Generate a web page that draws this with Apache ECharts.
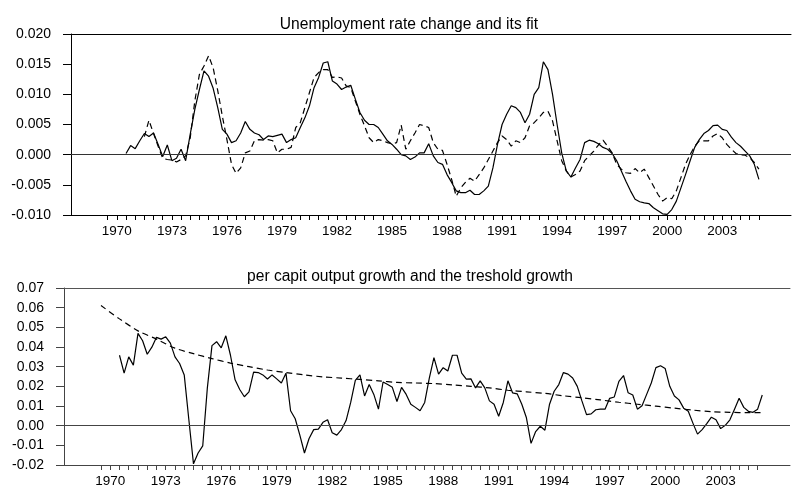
<!DOCTYPE html>
<html>
<head>
<meta charset="utf-8">
<script src="https://cdn.jsdelivr.net/npm/echarts@6/dist/echarts.min.js"></script>
<style>
  html, body { margin: 0; padding: 0; background: #fff; }
  #chart { width: 792px; height: 488px; }
</style>
</head>
<body>
<div id="chart"></div>
<script>
// quarterly categories, 1967Q3 .. 2006Q4
const quarters = [];
for (let y = 1967; y <= 2006; y++) {
  for (let q = 1; q <= 4; q++) {
    if (y === 1967 && q < 3) continue;
    quarters.push(y + 'Q' + q);
  }
}

// unemployment rate change (actual), from 1970Q3
const unempStart = '1970Q3';
const unempActual = [
  0.0002, 0.0015, 0.001, 0.0023, 0.0035, 0.003, 0.0036, 0.0017, -0.0003, 0.0016,
  -0.001, -0.0006, 0.0009, -0.001, 0.0034, 0.0075, 0.0108, 0.0139, 0.013, 0.011,
  0.0078, 0.0042, 0.0034, 0.002, 0.0023, 0.0036, 0.0055, 0.0042, 0.0036, 0.0033,
  0.0025, 0.0031, 0.003, 0.0032, 0.0034, 0.002, 0.0025, 0.0028, 0.0045, 0.0061,
  0.0081, 0.0111, 0.0128, 0.0152, 0.0154,
  0.0122, 0.0117, 0.0108, 0.0112, 0.0115, 0.0092, 0.007, 0.0057, 0.005, 0.005,
  0.0045, 0.0034, 0.0023, 0.0017, 0.0009, 0.0, -0.0002, -0.0008, -0.0004, 0.0003,
  0.0003, 0.0018, -0.0002, -0.0013, -0.0016, -0.0033, -0.0046, -0.006, -0.0063, -0.0063,
  -0.0059, -0.0066, -0.0066, -0.006, -0.0052, -0.0022, 0.0017, 0.005, 0.0067, 0.0081,
  0.0078, 0.007, 0.0053, 0.0067, 0.01, 0.0111, 0.0154, 0.0141,
  0.01, 0.005, 0.0003, -0.0027, -0.0037, -0.0022, -0.0008, 0.002, 0.0024, 0.0022,
  0.0018, 0.0012, 0.0009, 0.0002, -0.001, -0.0027, -0.0044, -0.006, -0.0074, -0.0078,
  -0.008, -0.0081, -0.0088, -0.0093, -0.0098, -0.0099, -0.0091, -0.0077, -0.0055, -0.0033,
  -0.001, 0.0012, 0.0025, 0.0035, 0.004, 0.0048, 0.0049, 0.0042, 0.004, 0.0029,
  0.002, 0.0014, 0.0006, -0.0002, -0.0016, -0.0041
];

// fitted unemployment rate change, from 1971Q3
const fitStart = '1971Q3';
const unempFit = [
  0.003, 0.0057, 0.0035, 0.0014, -0.0006, -0.0008, -0.0009, -0.0012, -0.0008, -0.0002,
  0.0028, 0.0089, 0.0133, 0.0147, 0.0164, 0.0144, 0.0106, 0.0064, 0.0025, -0.0016,
  -0.0031, -0.0022, 0.0003, 0.0006, 0.0023, 0.0025, 0.0024, 0.0025, 0.0023, 0.0003,
  0.0009, 0.0009, 0.0012, 0.0045, 0.0053, 0.0078, 0.0103, 0.0128, 0.0136, 0.0141, 0.0141,
  0.0128, 0.0129, 0.0127, 0.0114, 0.0111, 0.0089, 0.0067, 0.0048, 0.0028, 0.002,
  0.0025, 0.0023, 0.002, 0.0018, 0.002, 0.0049, 0.0009, 0.0023, 0.0036, 0.005,
  0.0048, 0.0045, 0.002, 0.0009, 0.0007, -0.0016, -0.0041, -0.0069, -0.0055, -0.0046,
  -0.0039, -0.0044, -0.0033, -0.0022, -0.0008, 0.0006, 0.002, 0.0031, 0.0025, 0.0014,
  0.0023, 0.002, 0.0028, 0.0048, 0.0053, 0.0061, 0.007, 0.0072,
  0.0056, 0.0023, -0.001, -0.0027, -0.0037, -0.0033, -0.0027, -0.001, -0.0002, 0.0006,
  0.0016, 0.0024, 0.0014, 0.0003, -0.0016, -0.0024, -0.003, -0.0031, -0.0023, -0.003,
  -0.0024, -0.0038, -0.0052, -0.0066, -0.0077, -0.0071, -0.0073, -0.006, -0.0038, -0.0016,
  0.0, 0.0014, 0.0023, 0.0023, 0.0023, 0.0031, 0.0035, 0.0028, 0.0017, 0.0009,
  0.0002, 0.0, -0.0001, -0.0005, -0.0013, -0.0024
];

// per capita output growth, from 1970Q3
const growthStart = '1970Q3';
const growth = [
  0.0358, 0.0267, 0.035, 0.0308, 0.0469, 0.0432, 0.0363, 0.0399, 0.0449, 0.044,
  0.0452, 0.042, 0.035, 0.0316, 0.0258, 0.003, -0.0194, -0.0139, -0.0103, 0.0192,
  0.0407, 0.0427, 0.0396, 0.0457, 0.0358, 0.0233, 0.0184, 0.0147, 0.0172, 0.0272,
  0.027, 0.0258, 0.0237, 0.0258, 0.0238, 0.0217, 0.0267, 0.0076, 0.0035, -0.0048,
  -0.0139, -0.0065, -0.002, -0.0018, 0.0017, 0.003, -0.0036, -0.0048, -0.002, 0.0026,
  0.0118, 0.023, 0.0258, 0.0151, 0.0209, 0.0159, 0.0084, 0.0222,
  0.0209, 0.0195, 0.0123, 0.0195, 0.0159, 0.0109, 0.0093, 0.0076, 0.0118, 0.0242,
  0.0346, 0.0262, 0.0295, 0.0278, 0.0358, 0.0358, 0.0267, 0.0237, 0.0238, 0.0192,
  0.0228, 0.0192, 0.0126, 0.0109, 0.0048, 0.0118, 0.0228, 0.0167, 0.0162, 0.0109,
  0.004, -0.009, -0.003, -0.0003, -0.0023, 0.0109, 0.0175, 0.0209, 0.027, 0.0262,
  0.0242, 0.02, 0.0126, 0.0056, 0.006, 0.0081, 0.0084, 0.0084, 0.0139, 0.0146,
  0.0225, 0.0255, 0.0167, 0.0156, 0.0084, 0.0101, 0.0159, 0.0217, 0.0295, 0.0305,
  0.0291, 0.02, 0.0151, 0.0131, 0.0089, 0.0073, 0.0013, -0.0043, -0.002, 0.001,
  0.0043, 0.003, -0.0015, 0.0002, 0.003, 0.0084, 0.0139, 0.0093, 0.0073, 0.0068,
  0.0084, 0.0156
];

// threshold growth, read at mid-year points
const thresholdDates = [
  '1969Q3', '1970Q3', '1971Q3', '1972Q3', '1973Q3', '1974Q3', '1975Q3', '1976Q3',
  '1977Q3', '1978Q3', '1979Q3', '1980Q3', '1981Q3', '1982Q3', '1983Q3', '1984Q3',
  '1985Q3', '1986Q3', '1987Q3', '1988Q3', '1989Q3', '1990Q3', '1991Q3', '1992Q3',
  '1993Q3', '1994Q3', '1995Q3', '1996Q3', '1997Q3', '1998Q3', '1999Q3', '2000Q3',
  '2001Q3', '2002Q3', '2003Q3', '2004Q3', '2005Q2'
];
const threshold = [
  0.0611, 0.0543, 0.0482, 0.044, 0.0394, 0.0366, 0.0341, 0.0318,
  0.03, 0.0283, 0.027, 0.0258, 0.0248, 0.0242, 0.0235, 0.0228,
  0.022, 0.0217, 0.0214, 0.0207, 0.02, 0.0192, 0.018, 0.0172,
  0.0164, 0.0152, 0.0142, 0.0131, 0.0119, 0.0109, 0.0099, 0.0089,
  0.0079, 0.0071, 0.0068, 0.0066, 0.0066
];

const titles = ['Unemployment rate change and its fit', 'per capit output growth and the treshold growth'];
const labelYears = [1970, 1973, 1976, 1979, 1982, 1985, 1988, 1991, 1994, 1997, 2000, 2003];

const FONT = '"Liberation Sans", Arial, sans-serif';

function qTime(s) {
  return parseInt(s.slice(0, 4)) + (parseInt(s.slice(5)) - 1) / 4;
}
function fromStart(start, values) {
  const i0 = quarters.indexOf(start);
  return values.map((v, i) => [quarters[i0 + i], v]);
}

function bottomAxis(gridIndex, color) {
  return {
    type: 'category', gridIndex, data: quarters, boundaryGap: false, position: 'bottom',
    axisLine: { onZero: false, lineStyle: { color, width: 1 } },
    axisTick: {
      length: 5, lineStyle: { color },
      interval: (idx, val) => {
        const t = qTime(val);
        return (t * 2) % 1 === 0 && t >= 1969.5 && t <= 2005;
      }
    },
    axisLabel: {
      fontFamily: FONT, fontSize: 13.5, color: '#000', margin: 9,
      interval: (idx, val) => val.endsWith('Q1') && labelYears.includes(parseInt(val)),
      formatter: v => v.slice(0, 4)
    },
    splitLine: { show: false }
  };
}
function topAxis(gridIndex, color) {
  return {
    type: 'category', gridIndex, data: quarters, boundaryGap: false, position: 'top',
    axisLine: { onZero: false, lineStyle: { color, width: 1 } },
    axisTick: { show: false }, axisLabel: { show: false }, splitLine: { show: false }
  };
}
function valueAxis(gridIndex, min, max, interval, digits, color) {
  return {
    type: 'value', gridIndex, min, max, interval,
    axisLine: { show: true, onZero: false, lineStyle: { color, width: 1 } },
    axisTick: { show: true, length: 8, lineStyle: { color } },
    axisLabel: { fontFamily: FONT, fontSize: 14, color: '#000', margin: 20,
      formatter: v => v.toFixed(digits) },
    splitLine: { show: false }
  };
}
function zeroLine(color) {
  return {
    silent: true, symbol: 'none', label: { show: false },
    lineStyle: { color, type: 'solid', width: 1 },
    data: [{ yAxis: 0 }]
  };
}

const chart = echarts.init(document.getElementById('chart'));
chart.setOption({
  animation: false,
  backgroundColor: '#fff',
  title: [
    { text: titles[0], left: 404, top: 12, textAlign: 'center',
      textStyle: { fontFamily: FONT, fontSize: 15.6, fontWeight: 'normal', color: '#000' } },
    { text: titles[1], left: 405, top: 264, textAlign: 'center',
      textStyle: { fontFamily: FONT, fontSize: 15.6, fontWeight: 'normal', color: '#000' } }
  ],
  grid: [
    { left: 71, right: 1, top: 34, height: 181 },
    { left: 64, right: 2, top: 288, height: 181 }
  ],
  xAxis: [
    bottomAxis(0, '#000'), topAxis(0, '#000'),
    bottomAxis(1, '#444'), topAxis(1, '#555')
  ],
  yAxis: [
    valueAxis(0, -0.01, 0.02, 0.005, 3, '#000'),
    valueAxis(1, -0.02, 0.07, 0.01, 2, '#444')
  ],
  series: [
    { name: 'actual', type: 'line', xAxisIndex: 0, yAxisIndex: 0,
      data: fromStart(unempStart, unempActual), showSymbol: false,
      lineStyle: { color: '#000', width: 1.2 }, markLine: zeroLine('#333') },
    { name: 'fit', type: 'line', xAxisIndex: 0, yAxisIndex: 0,
      data: fromStart(fitStart, unempFit), showSymbol: false,
      lineStyle: { color: '#000', width: 1.2, type: [6, 4] } },
    { name: 'growth', type: 'line', xAxisIndex: 2, yAxisIndex: 1,
      data: fromStart(growthStart, growth), showSymbol: false,
      lineStyle: { color: '#000', width: 1.2 }, markLine: zeroLine('#444') },
    { name: 'threshold', type: 'line', xAxisIndex: 2, yAxisIndex: 1,
      data: thresholdDates.map((d, i) => [d, threshold[i]]), showSymbol: false, smooth: 0.3,
      lineStyle: { color: '#000', width: 1.2, type: [6, 4] } }
  ]
});
</script>
</body>
</html>
